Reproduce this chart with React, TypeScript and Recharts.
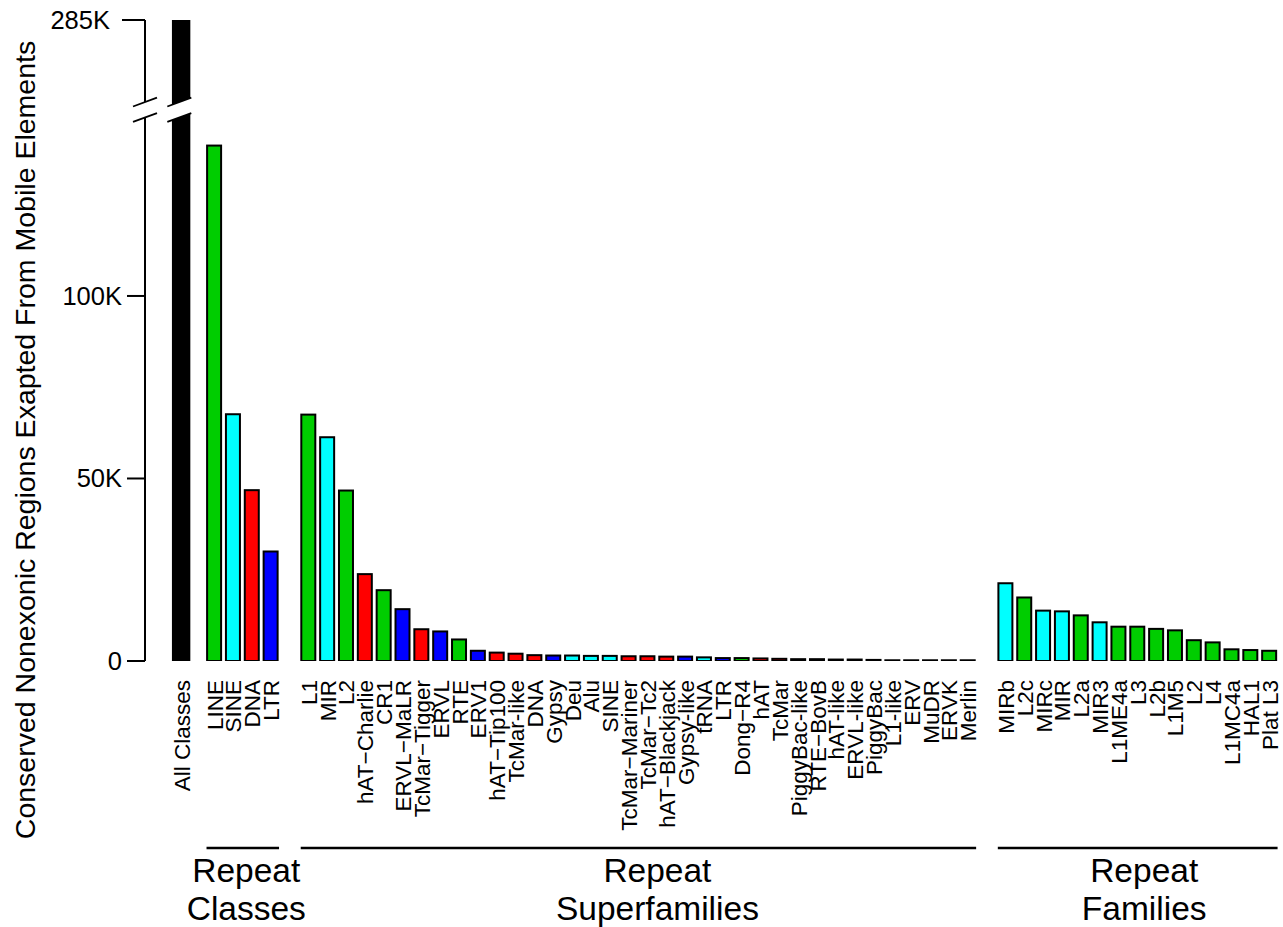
import { BarChart, Bar, XAxis, YAxis } from "recharts";

// ---- data ----
const allClassesTotal = 285000;

const classNames = ["LINE", "SINE", "DNA", "LTR"];
const classValues = [141200, 67600, 46800, 30000];

const superfamilyNames = [
  "L1", "MIR", "L2", "hAT\u2212Charlie", "CR1", "ERVL\u2212MaLR", "TcMar\u2212Tigger", "ERVL", "RTE",
  "ERV1", "hAT\u2212Tip100", "TcMar-like", "DNA", "Gypsy", "Deu", "Alu", "SINE",
  "TcMar\u2212Mariner", "TcMar\u2212Tc2", "hAT\u2212Blackjack", "Gypsy-like", "tRNA", "LTR",
  "Dong\u2212R4", "hAT", "TcMar", "PiggyBac-like", "RTE\u2212BovB", "hAT-like", "ERVL-like",
  "PiggyBac", "L1-like", "ERV", "MuDR", "ERVK", "Merlin",
];
const superfamilyClasses = [
  "LINE", "SINE", "LINE", "DNA", "LINE", "LTR", "DNA", "LTR", "LINE",
  "LTR", "DNA", "DNA", "DNA", "LTR", "SINE", "SINE", "SINE",
  "DNA", "DNA", "DNA", "LTR", "SINE", "LTR",
  "LINE", "DNA", "DNA", "DNA", "LINE", "DNA", "LTR",
  "DNA", "LINE", "LTR", "DNA", "LTR", "DNA",
];
const superfamilyValues = [
  67500, 61300, 46700, 23800, 19400, 14200, 8700, 8100, 5900,
  2800, 2300, 2000, 1600, 1500, 1500, 1400, 1400,
  1300, 1300, 1200, 1200, 1000, 800,
  800, 700, 600, 500, 500, 400, 400,
  300, 200, 200, 200, 200, 200,
];

const familyNames = [
  "MIRb", "L2c", "MIRc", "MIR", "L2a", "MIR3", "L1ME4a", "L3", "L2b", "L1M5",
  "L2", "L4", "L1MC4a", "HAL1", "Plat L3",
];
const familyClasses = [
  "SINE", "LINE", "SINE", "SINE", "LINE", "SINE", "LINE", "LINE", "LINE", "LINE",
  "LINE", "LINE", "LINE", "LINE", "LINE",
];
const familyValues = [
  21300, 17400, 13800, 13600, 12500, 10600, 9400, 9400, 8800, 8400,
  5700, 5100, 3200, 3000, 2800,
];

const yTickValues = [0, 50000, 100000];

const classColors: Record<string, string> = {
  LINE: "#00cd00",
  SINE: "#00ffff",
  DNA: "#ff0000",
  LTR: "#0000ff",
};

// ---- layout ----
const W = 1283;
const H = 927;
const MARGIN = { top: 20, right: 4, bottom: 0, left: 0 };
const Y_AXIS_W = 145;
const X_AXIS_H = 266;
const X_DOMAIN: [number, number] = [-1.94, 58.25];
const PX_PER_UNIT = (W - MARGIN.left - MARGIN.right - Y_AXIS_W) / (X_DOMAIN[1] - X_DOMAIN[0]);
const GROUP_STARTS = [1.75, 6.75, 43.75];
const GROUP_TITLE_SHIFT = [3.5, 19, 6.5];
const FONT = "'Liberation Sans', Arial, Helvetica, sans-serif";

// broken y axis: everything above BREAK_AT is squeezed so the total lands on Y_TOP
const BREAK_AT = 151000;
const Y_TOP = 175600;
const compress = (v: number) =>
  v <= BREAK_AT ? v : BREAK_AT + ((v - BREAK_AT) * (Y_TOP - BREAK_AT)) / (allClassesTotal - BREAK_AT);

const groups = [
  { names: classNames, classes: classNames, values: classValues, title: ["Repeat", "Classes"] },
  { names: superfamilyNames, classes: superfamilyClasses, values: superfamilyValues, title: ["Repeat", "Superfamilies"] },
  { names: familyNames, classes: familyClasses, values: familyValues, title: ["Repeat", "Families"] },
];

interface Row {
  name: string;
  pos: number;
  value: number;
  plot: number;
  color: string;
  total: boolean;
  groupIndex: number;
}

const rows: Row[] = [
  {
    name: "All Classes",
    pos: 0,
    value: allClassesTotal,
    plot: compress(allClassesTotal),
    color: "#000000",
    total: true,
    groupIndex: -1,
  },
];
groups.forEach((g, gi) =>
  g.names.forEach((name, i) =>
    rows.push({
      name,
      pos: GROUP_STARTS[gi] + i,
      value: g.values[i],
      plot: compress(g.values[i]),
      color: classColors[g.classes[i]],
      total: false,
      groupIndex: i === 0 ? gi : -1,
    })
  )
);

const formatK = (v: number) => (v === 0 ? "0" : `${Math.round(v / 1000)}K`);

function BreakMark({ cx, cy }: { cx: number; cy: number }) {
  const half = 12;
  const gap = 7.7;
  const tilt = 4.4;
  const ux1 = cx - half, uy1 = cy - gap + tilt, ux2 = cx + half, uy2 = cy - gap - tilt;
  const ly1 = cy + gap + tilt, ly2 = cy + gap - tilt;
  return (
    <g>
      <polygon
        points={`${ux1},${uy1} ${ux2},${uy2} ${ux2},${ly2} ${ux1},${ly1}`}
        fill="#ffffff"
      />
      <line x1={ux1} y1={uy1} x2={ux2} y2={uy2} stroke="#000" strokeWidth={1.8} />
      <line x1={ux1} y1={ly1} x2={ux2} y2={ly2} stroke="#000" strokeWidth={1.8} />
    </g>
  );
}

function BarShape(props: any) {
  const { x, y, width, height, payload } = props;
  const extra = payload.total ? 1.2 : 0;
  return (
    <g>
      <rect
        x={x - extra}
        y={y}
        width={width + extra * 2}
        height={height}
        fill={payload.color}
        stroke="#000"
        strokeWidth={2}
      />
      {payload.total && (
        <BreakMark cx={x + width / 2 - 1.8} cy={y + height * (1 - BREAK_AT / payload.plot)} />
      )}
    </g>
  );
}

function XTick(props: any) {
  const { x, y, payload } = props;
  const row = rows.find((r) => Math.abs(r.pos - payload.value) < 1e-6);
  if (!row) return null;
  const top = y + 19;
  let group = null;
  if (row.groupIndex >= 0) {
    const g = groups[row.groupIndex];
    const span = (g.names.length - 1) * PX_PER_UNIT;
    const cx = x + span / 2 + GROUP_TITLE_SHIFT[row.groupIndex];
    group = (
      <g>
        <line x1={x - 8} x2={x + span + 8} y1={y + 187} y2={y + 187} stroke="#000" strokeWidth={2.5} />
        <text x={cx} y={y + 221} textAnchor="middle" fontSize={33.5} fontFamily={FONT} fill="#000">
          {g.title[0]}
        </text>
        <text x={cx} y={y + 259} textAnchor="middle" fontSize={33.5} fontFamily={FONT} fill="#000">
          {g.title[1]}
        </text>
      </g>
    );
  }
  return (
    <g>
      <text
        x={x}
        y={top}
        transform={`rotate(-90 ${x} ${top})`}
        textAnchor="end"
        dy="0.36em"
        fontSize={22.5}
        fontFamily={FONT}
        fill="#000"
      >
        {row.name}
      </text>
      {group}
    </g>
  );
}

function YTick(props: any) {
  const { x, y, payload } = props;
  const v = payload.value;
  if (v === BREAK_AT) return <BreakMark cx={x} cy={y} />;
  const isTop = v === Y_TOP;
  const len = isTop ? 23 : 18;
  const gap = isTop ? 12 : 5;
  return (
    <g>
      <line x1={x - len} x2={x} y1={y} y2={y} stroke="#000" strokeWidth={2} />
      <text
        x={x - len - gap}
        y={y}
        dy="0.35em"
        textAnchor="end"
        fontSize={25.5}
        fontFamily={FONT}
        fill="#000"
      >
        {formatK(isTop ? allClassesTotal : v)}
      </text>
    </g>
  );
}

export default function App() {
  return (
    <div style={{ position: "absolute", left: 0, top: 0, width: W, height: H, background: "#fff" }}>
      <BarChart width={W} height={H} data={rows} margin={MARGIN}>
        <XAxis
          type="number"
          dataKey="pos"
          domain={X_DOMAIN}
          allowDataOverflow
          ticks={rows.map((r) => r.pos)}
          interval={0}
          tick={<XTick />}
          tickLine={false}
          axisLine={false}
          tickSize={0}
          tickMargin={0}
          height={X_AXIS_H}
        />
        <YAxis
          type="number"
          domain={[0, Y_TOP]}
          allowDataOverflow
          ticks={[...yTickValues, BREAK_AT, Y_TOP]}
          interval={0}
          tick={<YTick />}
          tickLine={false}
          tickSize={0}
          tickMargin={0}
          axisLine={{ stroke: "#000", strokeWidth: 2 }}
          width={Y_AXIS_W}
        />
        <Bar dataKey="plot" barSize={14} shape={BarShape} isAnimationActive={false} />
      </BarChart>
      <svg
        width={W}
        height={H}
        style={{ position: "absolute", left: 0, top: 0, pointerEvents: "none" }}
      >
        <text
          x={25}
          y={440}
          transform="rotate(-90 25 440)"
          textAnchor="middle"
          dy="0.35em"
          fontSize={28.5}
          fontFamily={FONT}
          fill="#000"
        >
          Conserved Nonexonic Regions Exapted From Mobile Elements
        </text>
      </svg>
    </div>
  );
}
